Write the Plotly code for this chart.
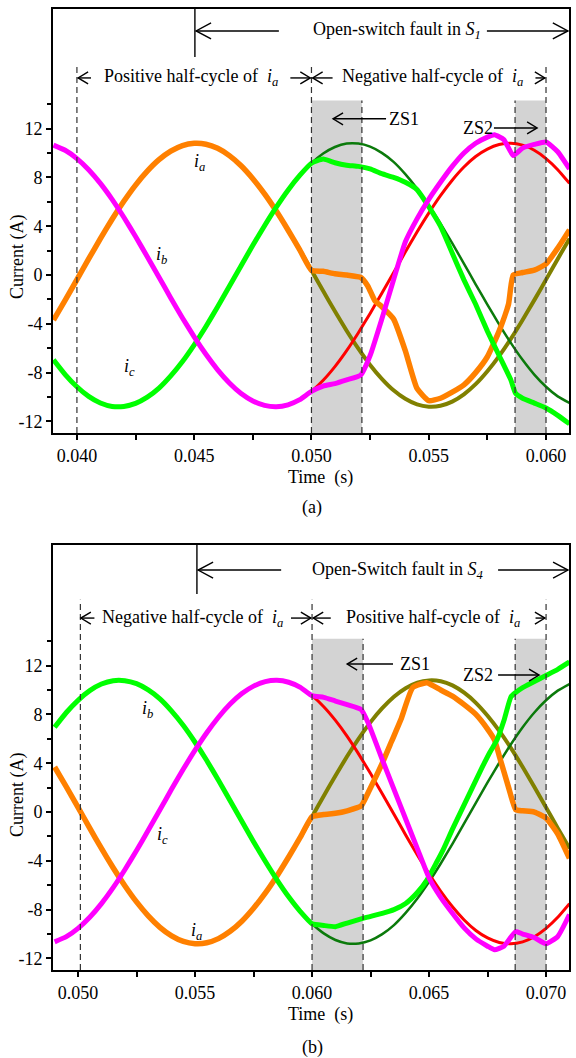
import plotly.graph_objects as go

# ---------------- data ----------------
# Panel (a): open-switch fault in S1
t_pre_a = [0.039, 0.0395, 0.040, 0.0405, 0.041, 0.0415, 0.042, 0.0425, 0.043, 0.0435, 0.044,
           0.0445, 0.045, 0.0455, 0.046, 0.0465, 0.047, 0.0475, 0.048, 0.0485, 0.049, 0.0495, 0.050]
ia_pre_a = [-3.69, -2.06, -0.38, 1.32, 2.98, 4.57, 6.04, 7.37, 8.51, 9.45, 10.15, 10.61, 10.79,
            10.72, 10.38, 9.78, 8.95, 7.89, 6.65, 5.24, 3.69, 2.06, 0.38]
ib_pre_a = [10.64, 10.22, 9.54, 8.63, 7.51, 6.20, 4.73, 3.15, 1.50, -0.18, -1.88, -3.52, -5.07,
            -6.50, -7.77, -8.85, -9.71, -10.32, -10.69, -10.80, -10.64, -10.22, -9.54]
ic_pre_a = [-6.95, -8.16, -9.16, -9.95, -10.49, -10.77, -10.77, -10.52, -10.01, -9.27, -8.27,
            -7.09, -5.72, -4.22, -2.61, -0.93, 0.76, 2.43, 4.04, 5.56, 6.95, 8.16, 9.16]

t_ref_a = [0.0475, 0.048, 0.0485, 0.049, 0.0495, 0.050, 0.0505, 0.051, 0.0515, 0.052, 0.0525,
           0.053, 0.0535, 0.054, 0.0545, 0.055, 0.0555, 0.056, 0.0565, 0.057, 0.0575, 0.058,
           0.0585, 0.059, 0.0595, 0.060, 0.0605, 0.061]
ia_ref_a = [7.89, 6.65, 5.24, 3.69, 2.06, 0.38, -1.32, -2.98, -4.57, -6.04, -7.37, -8.51, -9.45,
            -10.15, -10.61, -10.79, -10.72, -10.38, -9.78, -8.95, -7.89, -6.65, -5.24, -3.69,
            -2.06, -0.38, 1.32, 2.98]
ib_ref_a = [-10.32, -10.69, -10.80, -10.64, -10.22, -9.54, -8.63, -7.51, -6.20, -4.73, -3.15,
            -1.50, 0.18, 1.88, 3.52, 5.07, 6.50, 7.77, 8.85, 9.71, 10.32, 10.69, 10.80, 10.64,
            10.22, 9.54, 8.63, 7.51]
ic_ref_a = [2.43, 4.04, 5.56, 6.95, 8.16, 9.16, 9.95, 10.49, 10.77, 10.77, 10.52, 10.01, 9.27,
            8.27, 7.09, 5.72, 4.22, 2.61, 0.93, -0.76, -2.43, -4.04, -5.56, -6.95, -8.16, -9.16,
            -9.95, -10.49]

t_ia_f_a = [0.0505, 0.051, 0.0515, 0.0521, 0.0524, 0.0527, 0.053, 0.0535, 0.054, 0.0545, 0.055,
            0.0555, 0.056, 0.0565, 0.057, 0.0575, 0.058, 0.0584, 0.0586, 0.059, 0.0595, 0.060,
            0.0605, 0.061]
ia_f_a = [0.3, 0.1, 0.0, -0.2, -0.9, -2.1, -2.6, -3.6, -6.2, -9.3, -10.3, -10.1, -9.6, -9.0,
          -8.0, -6.7, -4.6, -2.4, 0.0, 0.2, 0.4, 0.9, 2.2, 3.7]
t_ib_f_a = [0.0505, 0.051, 0.0515, 0.0521, 0.0525, 0.053, 0.0535, 0.054, 0.0545, 0.055, 0.0555,
            0.056, 0.0565, 0.057, 0.0575, 0.0578, 0.0582, 0.0586, 0.059, 0.0595, 0.060,
            0.0605, 0.061]
ib_f_a = [-9.1, -8.9, -8.6, -8.2, -6.6, -3.6, -0.4, 2.7, 4.6, 6.2, 7.6, 8.9, 10.0, 10.8, 11.3,
          11.5, 11.1, 9.8, 10.4, 10.7, 10.9, 10.1, 8.7]
t_ic_f_a = [0.0505, 0.051, 0.0515, 0.052, 0.0525, 0.053, 0.0535, 0.054, 0.0545, 0.055, 0.0555,
            0.056, 0.0565, 0.057, 0.0575, 0.058, 0.0585, 0.0587, 0.059, 0.0595, 0.060, 0.0605,
            0.061]
ic_f_a = [9.5, 9.2, 9.0, 8.9, 8.7, 8.3, 8.0, 7.6, 7.0, 5.6, 4.0, 1.8, -0.4, -2.4, -4.6, -6.6,
          -8.6, -9.7, -10.1, -10.5, -10.9, -11.5, -12.2]

# Panel (b): open-switch fault in S4
t_pre_b = [0.049, 0.0495, 0.050, 0.0505, 0.051, 0.0515, 0.052, 0.0525, 0.053, 0.0535, 0.054,
           0.0545, 0.055, 0.0555, 0.056, 0.0565, 0.057, 0.0575, 0.058, 0.0585, 0.059, 0.0595, 0.060]
ia_pre_b = [3.69, 2.06, 0.38, -1.32, -2.98, -4.57, -6.04, -7.37, -8.51, -9.45, -10.15, -10.61,
            -10.79, -10.72, -10.38, -9.78, -8.95, -7.89, -6.65, -5.24, -3.69, -2.06, -0.38]
ib_pre_b = [6.95, 8.16, 9.16, 9.95, 10.49, 10.77, 10.77, 10.52, 10.01, 9.27, 8.27, 7.09, 5.72,
            4.22, 2.61, 0.93, -0.76, -2.43, -4.04, -5.56, -6.95, -8.16, -9.16]
ic_pre_b = [-10.64, -10.22, -9.54, -8.63, -7.51, -6.20, -4.73, -3.15, -1.50, 0.18, 1.88, 3.52,
            5.07, 6.50, 7.77, 8.85, 9.71, 10.32, 10.69, 10.80, 10.64, 10.22, 9.54]

t_ref_b = [0.0595, 0.060, 0.0605, 0.061, 0.0615, 0.062, 0.0625, 0.063, 0.0635, 0.064, 0.0645,
           0.065, 0.0655, 0.066, 0.0665, 0.067, 0.0675, 0.068, 0.0685, 0.069, 0.0695, 0.070,
           0.0705, 0.071]
ia_ref_b = [-2.06, -0.38, 1.32, 2.98, 4.57, 6.04, 7.37, 8.51, 9.45, 10.15, 10.61, 10.79, 10.72,
            10.38, 9.78, 8.95, 7.89, 6.65, 5.24, 3.69, 2.06, 0.38, -1.32, -2.98]
ib_ref_b = [-8.16, -9.16, -9.95, -10.49, -10.77, -10.77, -10.52, -10.01, -9.27, -8.27, -7.09,
            -5.72, -4.22, -2.61, -0.93, 0.76, 2.43, 4.04, 5.56, 6.95, 8.16, 9.16, 9.95, 10.49]
ic_ref_b = [10.22, 9.54, 8.63, 7.51, 6.20, 4.73, 3.15, 1.50, -0.18, -1.88, -3.52, -5.07, -6.50,
            -7.77, -8.85, -9.71, -10.32, -10.69, -10.80, -10.64, -10.22, -9.54, -8.63, -7.51]

t_ia_f_b = [0.0605, 0.061, 0.0615, 0.0621, 0.0624, 0.063, 0.0634, 0.0638, 0.0643, 0.0649,
            0.0655, 0.066, 0.0665, 0.067, 0.0675, 0.0678, 0.068, 0.0684, 0.0687, 0.069, 0.0695,
            0.070, 0.0705, 0.071]
ia_f_b = [-0.2, -0.1, 0.1, 0.5, 1.6, 4.0, 5.8, 7.6, 10.2, 10.6, 10.0, 9.5, 8.8, 8.0, 6.8, 5.9,
          4.6, 2.0, 0.2, 0.1, 0.0, -0.5, -1.8, -3.8]
t_ib_f_b = [0.0605, 0.061, 0.0615, 0.0622, 0.063, 0.0635, 0.064, 0.0645, 0.0649, 0.0653,
            0.0656, 0.066, 0.0664, 0.0668, 0.0672, 0.0676, 0.0679, 0.0682, 0.0685, 0.0687,
            0.069, 0.0695, 0.070, 0.0705, 0.071]
ib_f_b = [-9.3, -9.4, -9.1, -8.7, -8.3, -8.0, -7.5, -6.6, -5.6, -4.2, -3.1, -1.4, 0.2, 1.8,
          3.4, 4.9, 5.9, 7.5, 9.45, 9.8, 10.2, 10.7, 11.2, 11.7, 12.3]
t_ic_f_b = [0.0605, 0.061, 0.0615, 0.0621, 0.0624, 0.063, 0.0638, 0.0645, 0.065, 0.0655, 0.066,
            0.0665, 0.067, 0.0675, 0.0678, 0.0682, 0.0687, 0.069, 0.0695, 0.070, 0.0705, 0.071]
ic_f_b = [9.4, 9.1, 8.8, 8.4, 7.3, 4.3, 0.4, -3.0, -5.4, -7.0, -8.3, -9.5, -10.4, -11.0, -11.3,
          -11.0, -9.8, -10.0, -10.3, -10.8, -10.2, -8.4]

y_tickvals = [-12, -8, -4, 0, 4, 8, 12]
y_ticktext = ["-12", "-8", "-4", "0", "4", "8", "12"]
y_minorvals = [-10, -6, -2, 2, 6, 10, 14]

# ---------------- styling ----------------
W, H = 576, 1058
FONT = "Liberation Serif, Times New Roman, serif"
ORANGE, MAGENTA, GREEN = "#ff8000", "#ff00ff", "#00ff00"
OLIVE, RED, DKGREEN = "#808000", "#ff0000", "#0b7a0b"
GRAY = "#d3d3d3"

fig = go.Figure()


def add(xa, ya, x, y, color, width):
    fig.add_trace(go.Scatter(x=x, y=y, mode="lines",
                             line=dict(color=color, width=width, shape="spline", smoothing=0.45),
                             xaxis=xa, yaxis=ya, showlegend=False, hoverinfo="skip"))


# panel (a)
add("x", "y", t_ref_a, ia_ref_a, OLIVE, 4)
add("x", "y", t_ref_a, ic_ref_a, DKGREEN, 2.5)
add("x", "y", t_ref_a, ib_ref_a, RED, 3)
add("x", "y", t_pre_a + t_ia_f_a, ia_pre_a + ia_f_a, ORANGE, 5.5)
add("x", "y", t_pre_a + t_ic_f_a, ic_pre_a + ic_f_a, GREEN, 5)
add("x", "y", t_pre_a + t_ib_f_a, ib_pre_a + ib_f_a, MAGENTA, 5)
# panel (b)
add("x2", "y2", t_ref_b, ia_ref_b, OLIVE, 4)
add("x2", "y2", t_ref_b, ib_ref_b, DKGREEN, 2.5)
add("x2", "y2", t_ref_b, ic_ref_b, RED, 3)
add("x2", "y2", t_pre_b + t_ia_f_b, ia_pre_b + ia_f_b, ORANGE, 5.5)
add("x2", "y2", t_pre_b + t_ib_f_b, ib_pre_b + ib_f_b, GREEN, 5)
add("x2", "y2", t_pre_b + t_ic_f_b, ic_pre_b + ic_f_b, MAGENTA, 5)

shapes = []
annotations = []


def vline(xr, yr, x, y0, y1, dash="6px,4px", color="#333333", width=1.2):
    shapes.append(dict(type="line", xref=xr, yref=yr, x0=x, x1=x, y0=y0, y1=y1,
                       line=dict(color=color, width=width, dash=dash)))


def rect(xr, yr, x0, x1, y0, y1):
    shapes.append(dict(type="rect", xref=xr, yref=yr, x0=x0, x1=x1, y0=y0, y1=y1,
                       fillcolor=GRAY, line=dict(width=0), layer="below"))


def arrow(xr, yr, tail, tip, y, hl=10, hw=6):
    shapes.append(dict(type="line", xref=xr, yref=yr, x0=tail, x1=tip, y0=y, y1=y,
                       line=dict(color="black", width=1.4)))
    d = 1 if tip > tail else -1
    shapes.append(dict(type="path", xref=xr, yref=yr, xsizemode="pixel", ysizemode="pixel",
                       xanchor=tip, yanchor=y,
                       path=f"M {-d*hl},{hw} L 0,0 L {-d*hl},{-hw}",
                       line=dict(color="black", width=1.4)))


def text(xr, yr, x, y, s, size=18, xanchor="center"):
    annotations.append(dict(xref=xr, yref=yr, x=x, y=y, text=s, showarrow=False,
                            xanchor=xanchor, yanchor="middle",
                            font=dict(family=FONT, size=size, color="black")))


IA = "<i>i</i><sub><i>a</i></sub>"

# ---- panel (a) decorations ----
ymin_a, ymax_a = -12.95, 21.8
rect("x", "y", 0.050, 0.05215, ymin_a, 14.3)
rect("x", "y", 0.05868, 0.060, ymin_a, 14.3)
vline("x", "y", 0.040, ymin_a, 17.1)
vline("x", "y", 0.050, ymin_a, 17.1)
vline("x", "y", 0.060, ymin_a, 17.1)
vline("x", "y", 0.05215, ymin_a, 14.3)
vline("x", "y", 0.05868, ymin_a, 14.3)
vline("x", "y", 0.04503, 17.87, ymax_a, dash="solid", color="black", width=1.4)
arrow("x", "y", 0.04861, 0.04508, 20.0, hl=15, hw=8)
arrow("x", "y", 0.05748, 0.06093, 20.0, hl=15, hw=8)
text("x", "y", 0.05365, 20.0, "Open-switch fault in <i>S</i><sub><i>1</i></sub>")
arrow("x", "y", 0.0406, 0.04005, 16.15)
arrow("x", "y", 0.0491, 0.04995, 16.15)
arrow("x", "y", 0.0509, 0.05005, 16.15)
arrow("x", "y", 0.05955, 0.05995, 16.15)
text("x", "y", 0.04486, 16.15, "Positive half-cycle of  " + IA)
text("x", "y", 0.05514, 16.15, "Negative half-cycle of  " + IA)
arrow("x", "y", 0.05318, 0.05092, 12.8)
text("x", "y", 0.05394, 12.8, "ZS1")
arrow("x", "y", 0.05778, 0.05962, 12.05)
text("x", "y", 0.0571, 12.05, "ZS2")
text("x", "y", 0.04523, 9.26, IA)
text("x", "y", 0.04361, 1.6, "<i>i</i><sub><i>b</i></sub>")
text("x", "y", 0.04225, -7.6, "<i>i</i><sub><i>c</i></sub>")

# ---- panel (b) decorations ----
ymin_b, ymax_b = -12.95, 21.89
rect("x2", "y2", 0.060, 0.06218, ymin_b, 14.2)
rect("x2", "y2", 0.06868, 0.070, ymin_b, 14.2)
vline("x2", "y2", 0.0501, ymin_b, 17.4)
vline("x2", "y2", 0.060, ymin_b, 17.4)
vline("x2", "y2", 0.070, ymin_b, 17.4)
vline("x2", "y2", 0.06218, ymin_b, 14.2)
vline("x2", "y2", 0.06868, ymin_b, 14.2)
vline("x2", "y2", 0.05508, 17.87, ymax_b, dash="solid", color="black", width=1.4)
arrow("x2", "y2", 0.05868, 0.05513, 19.84, hl=15, hw=8)
arrow("x2", "y2", 0.06795, 0.07094, 19.84, hl=15, hw=8)
text("x2", "y2", 0.06363, 19.84, "Open-Switch fault in <i>S</i><sub><i>4</i></sub>")
arrow("x2", "y2", 0.0507, 0.05012, 15.9)
arrow("x2", "y2", 0.0591, 0.05995, 15.9)
arrow("x2", "y2", 0.0608, 0.06005, 15.9)
arrow("x2", "y2", 0.06955, 0.06995, 15.9)
text("x2", "y2", 0.05487, 15.9, "Negative half-cycle of  " + IA)
text("x2", "y2", 0.06517, 15.9, "Positive half-cycle of  " + IA)
arrow("x2", "y2", 0.06346, 0.0615, 12.13)
text("x2", "y2", 0.0644, 12.13, "ZS1")
arrow("x2", "y2", 0.06795, 0.0697, 11.23)
text("x2", "y2", 0.06709, 11.23, "ZS2")
text("x2", "y2", 0.05295, 8.4, "<i>i</i><sub><i>b</i></sub>")
text("x2", "y2", 0.05363, -1.9, "<i>i</i><sub><i>c</i></sub>")
text("x2", "y2", 0.05508, -9.8, IA)

# ---- axis titles / captions (paper) ----
def ptext(px, py, s, angle=0, size=18):
    annotations.append(dict(xref="paper", yref="paper", x=px / W, y=1 - py / H, text=s,
                            showarrow=False, xanchor="center", yanchor="middle", textangle=angle,
                            font=dict(family=FONT, size=size, color="black")))


ptext(17, 257, "Current (A)", angle=-90)
ptext(17, 795, "Current (A)", angle=-90)
ptext(320, 477, "Time  (s)")
ptext(320, 1015, "Time  (s)")
ptext(312, 507, "(a)")
ptext(312, 1047, "(b)")

xdom = [53 / W, 569 / W]


def xaxis(rng, anchor, tick0):
    return dict(domain=xdom, anchor=anchor, range=rng, showgrid=False, zeroline=False,
                showline=True, mirror=True, linecolor="black", linewidth=2,
                ticks="outside", ticklen=5, tickwidth=1.5, tickcolor="black",
                tick0=tick0, dtick=0.005, tickformat=".3f",
                tickfont=dict(family=FONT, size=18, color="black"),
                minor=dict(dtick=0.0025, tick0=tick0, ticks="outside", ticklen=5,
                           tickwidth=1.5, tickcolor="black"))


def yaxis(rng, anchor, dom):
    return dict(domain=dom, anchor=anchor, range=rng, showgrid=False, zeroline=False,
                showline=True, mirror=True, linecolor="black", linewidth=2,
                ticks="outside", ticklen=5, tickwidth=1.5, tickcolor="black",
                tickmode="array", tickvals=y_tickvals, ticktext=y_ticktext,
                tickfont=dict(family=FONT, size=18, color="black"),
                minor=dict(tickmode="array", tickvals=y_minorvals, ticks="outside",
                           ticklen=4, tickwidth=1.5, tickcolor="black"))


fig.update_layout(
    width=W, height=H, autosize=False,
    margin=dict(l=0, r=0, t=0, b=0),
    paper_bgcolor="white", plot_bgcolor="white",
    xaxis=xaxis([0.03898, 0.06098], "y", 0.040),
    yaxis=yaxis([ymin_a, ymax_a], "x", [1 - 433 / H, 1 - 9 / H]),
    xaxis2=xaxis([0.04893, 0.07098], "y2", 0.050),
    yaxis2=yaxis([ymin_b, ymax_b], "x2", [1 - 970 / H, 1 - 545 / H]),
    shapes=shapes, annotations=annotations,
    font=dict(family=FONT, color="black"),
)

fig.write_html("out.html")
